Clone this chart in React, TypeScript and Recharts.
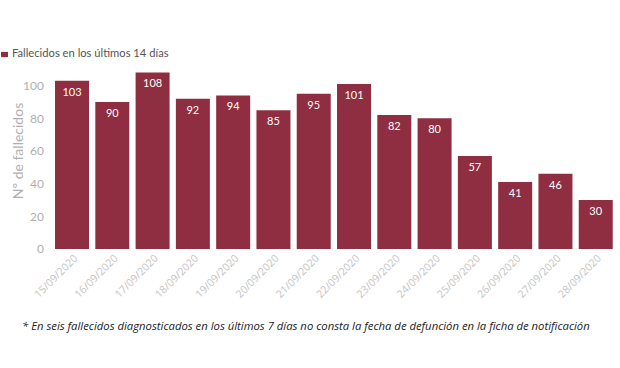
import React from 'react';
import { BarChart, Bar, XAxis, YAxis, Legend, LabelList } from 'recharts';

const fechas = [
  '15/09/2020', '16/09/2020', '17/09/2020', '18/09/2020', '19/09/2020', '20/09/2020', '21/09/2020',
  '22/09/2020', '23/09/2020', '24/09/2020', '25/09/2020', '26/09/2020', '27/09/2020', '28/09/2020',
];
const fallecidos = [103, 90, 108, 92, 94, 85, 95, 101, 82, 80, 57, 41, 46, 30];
const yTicks = [0, 20, 40, 60, 80, 100];

const data = fechas.map((fecha, i) => ({ fecha, fallecidos: fallecidos[i] }));

const FONT = 'Lato, sans-serif';
const BAR_COLOR = '#8f2e40';

function DateTick(props: any) {
  const { x, y, payload } = props;
  const tx = x + 6;
  const ty = y + 2;
  return (
    <text
      x={tx}
      y={ty}
      transform={`rotate(-45, ${tx}, ${ty})`}
      textAnchor="end"
      fontSize={10.5}
      fontFamily={'"Open Sans", sans-serif'}
      fill="#c4c4c4"
    >
      {payload.value}
    </text>
  );
}

export default function App() {
  return (
    <div style={{ position: 'absolute', left: 0, top: 0, width: 620, height: 368, background: '#fff' }}>
      <BarChart
        width={620}
        height={368}
        data={data}
        margin={{ top: 40, right: 4, left: 12, bottom: 59 }}
        barCategoryGap="7.5%"
      >
        <Legend
          verticalAlign="top"
          align="left"
          iconType="rect"
          iconSize={7}
          wrapperStyle={{ top: 46, left: 1, fontFamily: FONT, fontSize: 11.2 }}
          formatter={(v: string) => <span style={{ color: '#555' }}>{v}</span>}
        />
        <XAxis dataKey="fecha" interval={0} tick={<DateTick />} tickLine={false} axisLine={false} height={60} />
        <YAxis
          width={40}
          domain={[0, 120]}
          ticks={yTicks}
          tickLine={false}
          axisLine={false}
          tick={{ fontSize: 12, fontFamily: FONT, fill: '#b0b0b0' }}
          label={{
            value: 'Nº de fallecidos',
            angle: -90,
            position: 'insideLeft',
            offset: 6,
            style: { textAnchor: 'middle', fontSize: 14, fontFamily: FONT, fill: '#b0b0b0' },
          }}
        />
        <Bar dataKey="fallecidos" name="Fallecidos en los últimos 14 días" fill={BAR_COLOR} isAnimationActive={false}>
          <LabelList
            dataKey="fallecidos"
            position="insideTop"
            offset={7}
            style={{ fill: '#fff', fontSize: 11, fontFamily: FONT }}
          />
        </Bar>
      </BarChart>
      <div
        style={{
          position: 'absolute',
          left: 22,
          top: 318,
          fontFamily: '"Open Sans", sans-serif',
          fontStyle: 'italic',
          fontSize: 11.3,
          color: '#222',
          whiteSpace: 'nowrap',
        }}
      >
        * En seis fallecidos diagnosticados en los últimos 7 días no consta la fecha de defunción en la ficha de notificación
      </div>
    </div>
  );
}
